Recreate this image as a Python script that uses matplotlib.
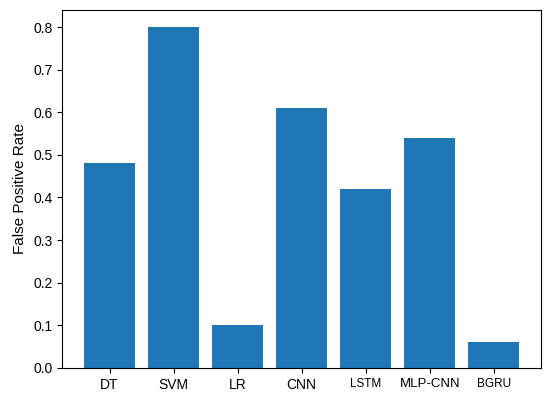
import matplotlib.pyplot as plt
import numpy as np

plt.rcParams['font.family'] = ['Liberation Sans', 'DejaVu Sans']

models = ['DT', 'SVM', 'LR', 'CNN', 'LSTM', 'MLP-CNN', 'BGRU']
fpr = [0.48, 0.80, 0.10, 0.61, 0.42, 0.54, 0.06]
label_sizes = [10, 10, 10, 10, 8.5, 9.5, 8.5]

fig, ax = plt.subplots(figsize=(5.5, 3.99), dpi=100)
fig.subplots_adjust(left=0.113, right=0.984, top=0.975, bottom=0.078)

x = np.arange(len(models))
ax.bar(x, fpr, color='#1f77b4', width=0.8)
ax.set_xticks(x)
ax.set_xticklabels(models)
for lab, s in zip(ax.get_xticklabels(), label_sizes):
    lab.set_fontsize(s)
ax.tick_params(axis='y', labelsize=10)
ax.set_ylabel('False Positive Rate', fontsize=11)

fig.savefig('out.png', dpi=100)
